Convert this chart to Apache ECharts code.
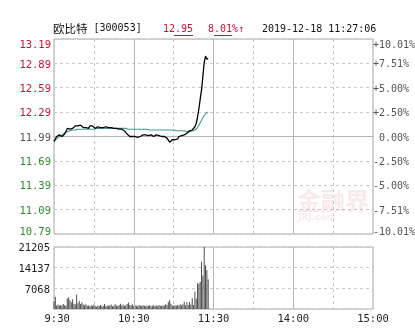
<!DOCTYPE html>
<html><head><meta charset="utf-8">
<script src="https://cdn.jsdelivr.net/npm/echarts@6/dist/echarts.min.js"></script>
<style>html,body{margin:0;padding:0;background:#fff}#c{width:415px;height:330px}</style>
</head><body><div id="c"></div>
<script>
// ---- data ----
const priceValues = [11.93,11.96,11.99,12.00,12.01,11.99,11.99,12.00,12.02,12.05,
12.09,12.11,12.08,12.10,12.09,12.11,12.12,12.14,12.12,12.11,
12.13,12.12,12.10,12.11,12.10,12.10,12.09,12.12,12.10,12.12,
12.10,12.09,12.10,12.11,12.09,12.10,12.09,12.10,12.12,12.11,
12.11,12.10,12.11,12.10,12.10,12.09,12.10,12.09,12.09,12.08,
12.08,12.08,12.07,12.06,12.04,12.02,12.01,11.99,11.98,11.99,
12.00,11.99,11.99,11.98,11.98,11.99,12.00,12.01,12.02,12.01,
12.00,12.00,12.02,12.01,12.00,11.99,11.99,12.01,12.02,12.00,
11.99,11.99,12.00,11.99,11.98,11.97,11.96,11.92,11.90,11.95,
11.95,11.95,11.95,11.96,11.99,11.98,12.00,12.02,12.01,12.03,
12.03,12.05,12.06,12.07,12.07,12.08,12.11,12.15,12.23,12.33,
12.45,12.56,12.73,12.90,12.98,12.94,12.95];
const avgValues = [11.93,11.95,11.96,11.98,11.99,12.00,12.01,12.02,12.03,12.04,
12.05,12.05,12.06,12.06,12.07,12.07,12.07,12.08,12.08,12.08,
12.08,12.08,12.08,12.08,12.08,12.08,12.08,12.08,12.08,12.08,
12.08,12.09,12.09,12.09,12.09,12.09,12.09,12.09,12.09,12.09,
12.09,12.09,12.09,12.09,12.09,12.09,12.09,12.09,12.09,12.09,
12.09,12.09,12.09,12.09,12.09,12.09,12.08,12.08,12.08,12.08,
12.08,12.08,12.08,12.08,12.08,12.08,12.08,12.08,12.08,12.08,
12.08,12.07,12.07,12.07,12.07,12.07,12.07,12.07,12.07,12.07,
12.07,12.07,12.07,12.07,12.07,12.07,12.07,12.07,12.07,12.07,
12.07,12.06,12.06,12.06,12.06,12.06,12.06,12.06,12.06,12.05,
12.05,12.05,12.05,12.05,12.06,12.06,12.07,12.08,12.10,12.13,
12.16,12.19,12.22,12.25,12.27,12.28,12.29];
const volumeValues = [2600,4200,1200,1500,1100,1400,1200,1700,1300,1100,
3600,3900,3000,2300,3300,1800,1500,5000,2000,2700,
1700,2300,1500,1300,1600,1100,1200,900,1300,1000,
1500,1100,800,1200,1000,1400,900,1100,1700,900,
1200,1000,1300,1500,900,1100,1600,1200,1000,1400,
1800,1200,1500,1000,1300,1700,2200,1400,1200,1600,
1000,1300,1100,900,1400,1200,1000,1300,1100,900,
1200,1000,1400,900,1100,1300,1000,1200,900,1400,
1100,1000,1300,1200,1600,1400,2400,3100,1800,1200,
1000,1300,1100,1400,1200,1600,1300,1600,2500,1200,
2300,1400,2400,1500,3700,1400,5900,3500,8800,8600,
9300,16200,11500,21205,15000,13300,10200];
const priceTicks = ['10.79','11.09','11.39','11.69','11.99','12.29','12.59','12.89','13.19'];
const pctTicks = ['-10.01%','-7.51%','-5.00%','-2.50%',' 0.00%','+2.50%','+5.00%','+7.51%','+10.01%'];
const volTicks = ['','7068','14137','21205'];
const timeTickLabels = {0:' 9:30',60:'10:30',120:'11:30',180:'14:00',240:'15:00'};
const solidTimes = ['10:30','11:30','14:00'];
const prevClose = '11.99';
const titleName = '欧比特';
const titleCode = ' [300053]';
const lastPrice = '12.95';
const lastPct = '8.01%↑';
const stamp = '2019-12-18 11:27:06';

// ---- categories (trading minutes) ----
function pad(n){return (n<10?'0':'')+n;}
const times = [];
for (let m = 570; m <= 690; m++) times.push(pad(Math.floor(m/60))+':'+pad(m%60));
for (let m = 781; m <= 900; m++) times.push(pad(Math.floor(m/60))+':'+pad(m%60));

const RED = '#cc1133', GREEN = '#2f8a2f', GRAY = '#555555';
const MONO = 'DejaVu Sans Mono';
const FS = 10.5;
const pMin = Number(priceTicks[0]), pMax = Number(priceTicks[priceTicks.length-1]);
const pStep = (pMax - pMin) / (priceTicks.length - 1);
const pctMax = 10.01, pctStep = 2*pctMax/(pctTicks.length-1);
const vMax = Number(volTicks[volTicks.length-1]);

function pIdx(v){return Math.round((v - pMin)/pStep);}
function qIdx(v){return Math.round((v + pctMax)/pctStep);}
const mid = (priceTicks.length-1)/2;

const dashed = {show:true, lineStyle:{color:'#c8c8c8', type:[3,3], width:1}};
const catInterval = (i) => i % 30 === 0;
function richSet(fs, extra){
  const e = extra || {};
  return {t:Object.assign({padding:[12,0,0,0],fontFamily:MONO,fontSize:fs}, e),
          b:Object.assign({padding:[0,0,3,0],fontFamily:MONO,fontSize:fs}, e),
          n:Object.assign({padding:[3,0,0,0],fontFamily:MONO,fontSize:fs}, e)};
}
function wrap(i, n, t){
  if(i===n-1) return '{t|'+t+'}';
  if(i===0) return '{b|'+t+'}';
  return '{n|'+t+'}';
}

const chart = echarts.init(document.getElementById('c'), null, {renderer:'canvas'});
chart.setOption({
  animation:false,
  backgroundColor:'#ffffff',
  grid:[
    {left:54, top:39, width:319, height:195, show:true, borderColor:'#a8a8a8', borderWidth:1, containLabel:false, outerBoundsMode:'none'},
    {left:54, top:247, width:319, height:62, show:true, borderColor:'#a8a8a8', borderWidth:1, containLabel:false, outerBoundsMode:'none'}
  ],
  xAxis:[
    {type:'category', gridIndex:0, data:times, boundaryGap:false,
     axisLine:{show:false}, axisTick:{show:false}, axisLabel:{show:false},
     splitLine:Object.assign({interval:catInterval}, dashed)},
    {type:'category', gridIndex:1, data:times, boundaryGap:false,
     axisLine:{show:false}, axisTick:{show:false},
     axisLabel:{show:true, interval:(i)=>timeTickLabels[i]!==undefined, margin:5,
       formatter:(v,i)=>timeTickLabels[i]||'', color:'#222', fontFamily:MONO, fontSize:FS},
     splitLine:Object.assign({interval:catInterval}, dashed)}
  ],
  yAxis:[
    {type:'value', gridIndex:0, min:pMin, max:pMax, interval:pStep, position:'left',
     axisLine:{show:false}, axisTick:{show:false}, splitLine:dashed,
     axisLabel:{margin:3, fontFamily:MONO, fontSize:FS,
       color:(v)=>{const i=pIdx(v); return i>mid?RED:(i<mid?GREEN:GRAY);},
       formatter:(v)=>wrap(pIdx(v), priceTicks.length, priceTicks[pIdx(v)]),
       rich:richSet(FS)}},
    {type:'value', gridIndex:0, min:-pctMax, max:pctMax, interval:pctStep, position:'right',
     axisLine:{show:false}, axisTick:{show:false}, splitLine:{show:false},
     axisLabel:{margin:36, align:'right', fontFamily:MONO, fontSize:10,
       color:(v)=>{const i=qIdx(v); return i>mid?RED:(i<mid?GREEN:GRAY);},
       formatter:(v)=>wrap(qIdx(v), pctTicks.length, pctTicks[qIdx(v)]),
       rich:richSet(10, {width:36, align:'left'})}},
    {type:'value', gridIndex:1, min:0, max:vMax, interval:vMax/(volTicks.length-1),
     axisLine:{show:false}, axisTick:{show:false}, splitLine:dashed,
     axisLabel:{margin:4, showMinLabel:false, color:'#222', fontFamily:MONO, fontSize:FS,
       formatter:(v)=>{const i=Math.round(v/(vMax/(volTicks.length-1))); return '{n|'+volTicks[i]+'}';},
       rich:{n:{padding:[3,0,0,0],fontFamily:MONO,fontSize:FS}}}}
  ],
  series:[
    {type:'line', xAxisIndex:0, yAxisIndex:0, data:avgValues, showSymbol:false, symbol:'none',
     lineStyle:{color:'#4a9898', width:1.1}, z:3,
     markLine:{silent:true, symbol:'none', label:{show:false}, animation:false, z:1,
       lineStyle:{color:'#b4b4b4', type:'solid', width:1},
       data:[{yAxis:Number(prevClose)}].concat(solidTimes.map(t=>({xAxis:t})))}},
    {type:'line', xAxisIndex:0, yAxisIndex:0, data:priceValues, showSymbol:false, symbol:'none',
     lineStyle:{color:'#000000', width:1.3}, z:5},
    {type:'bar', xAxisIndex:1, yAxisIndex:2, data:volumeValues, barWidth:1,
     itemStyle:{color:'#4d4d4d'},
     markLine:{silent:true, symbol:'none', label:{show:false}, animation:false,
       lineStyle:{color:'#b4b4b4', type:'solid', width:1},
       data:solidTimes.map(t=>({xAxis:t}))}}
  ],
  graphic:[
    {type:'text', left:53, top:23, z:10, style:{text:'{c|'+titleName+'}{m|'+titleCode+'}', fill:'#111',
      rich:{c:{fontFamily:'Noto Sans CJK SC', fontSize:11.5, fill:'#111'}, m:{fontFamily:MONO, fontSize:10, fill:'#111'}}}},
    {type:'text', left:163, top:24, z:10, style:{text:lastPrice, fill:RED, fontFamily:MONO, fontSize:10}},
    {type:'line', z:10, shape:{x1:174, y1:35.5, x2:193, y2:35.5}, style:{stroke:RED, lineWidth:1}},
    {type:'text', left:208, top:24, z:10, style:{text:lastPct, fill:RED, fontFamily:MONO, fontSize:10}},
    {type:'line', z:10, shape:{x1:214, y1:35.5, x2:232, y2:35.5}, style:{stroke:RED, lineWidth:1}},
    {type:'text', left:262, top:24, z:10, style:{text:stamp, fill:'#111', fontFamily:MONO, fontSize:10}},
    {type:'text', left:297, top:189, z:1, style:{text:'金融界', fill:'rgba(215,120,120,0.16)', fontFamily:'Noto Sans CJK SC', fontSize:24, fontWeight:'bold'}},
    {type:'text', left:298, top:213, z:1, style:{text:'JRJ.com', fill:'rgba(215,120,120,0.16)', fontFamily:'DejaVu Sans', fontSize:9, fontWeight:'bold'}}
  ]
});
</script></body></html>
